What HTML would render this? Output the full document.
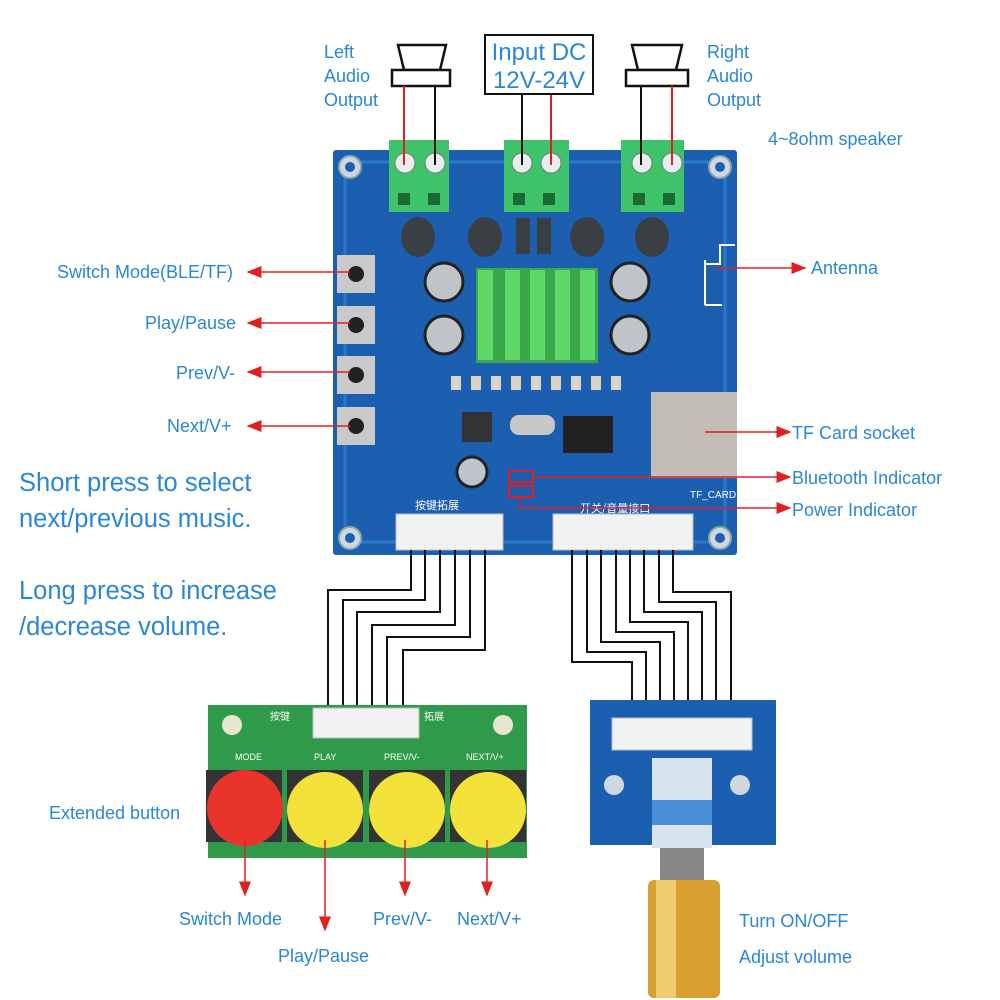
<!DOCTYPE html>
<html><head><meta charset="utf-8"><style>
html,body{margin:0;padding:0;background:#fff}
svg{display:block}
.t{font-family:"Liberation Sans","Noto Sans CJK SC",sans-serif;fill:#2a86d8}
</style></head><body>
<svg width="1000" height="1000" viewBox="0 0 1000 1000" xmlns="http://www.w3.org/2000/svg">
<defs>
<marker id="a" markerWidth="10" markerHeight="8" refX="9" refY="4" orient="auto"><path d="M0,0 L10,4 L0,8 z" fill="#e02020"/></marker>
</defs>
<rect x="333" y="150" width="404" height="405" fill="#1c5fb0" rx="3"/>
<rect x="345" y="162" width="380" height="380" fill="none" stroke="#2a78cc" stroke-width="3"/>
<g fill="#cfd8e0" stroke="#8aa" stroke-width="2">
<circle cx="350" cy="167" r="11"/><circle cx="720" cy="167" r="11"/><circle cx="350" cy="538" r="11"/><circle cx="720" cy="538" r="11"/></g>
<g fill="#1c5fb0"><circle cx="350" cy="167" r="5"/><circle cx="720" cy="167" r="5"/><circle cx="350" cy="538" r="5"/><circle cx="720" cy="538" r="5"/></g>
<g fill="#3ec36a"><rect x="389" y="140" width="60" height="72"/><rect x="504" y="140" width="65" height="72"/><rect x="621" y="140" width="63" height="72"/></g>
<g fill="#1b6a35"><rect x="398" y="193" width="12" height="12"/><rect x="428" y="193" width="12" height="12"/><rect x="513" y="193" width="12" height="12"/><rect x="543" y="193" width="12" height="12"/><rect x="633" y="193" width="12" height="12"/><rect x="663" y="193" width="12" height="12"/></g>
<g fill="#e8eeee" stroke="#777"><circle cx="405" cy="163" r="10"/><circle cx="435" cy="163" r="10"/><circle cx="522" cy="163" r="10"/><circle cx="551" cy="163" r="10"/><circle cx="642" cy="163" r="10"/><circle cx="672" cy="163" r="10"/></g>
<g fill="#3a3f44"><ellipse cx="418" cy="237" rx="17" ry="20"/><ellipse cx="485" cy="237" rx="17" ry="20"/><ellipse cx="587" cy="237" rx="17" ry="20"/><ellipse cx="652" cy="237" rx="17" ry="20"/>
<rect x="516" y="218" width="14" height="36"/><rect x="537" y="218" width="14" height="36"/></g>
<g fill="#bfc4c8" stroke="#222" stroke-width="3"><circle cx="444" cy="282" r="19"/><circle cx="444" cy="335" r="19"/><circle cx="630" cy="282" r="19"/><circle cx="630" cy="335" r="19"/><circle cx="472" cy="472" r="15"/></g>
<rect x="476" y="268" width="122" height="95" fill="#3aa84a"/>
<g fill="#5ed868"><rect x="478" y="270" width="15" height="90"/><rect x="505" y="270" width="15" height="90"/><rect x="530" y="270" width="15" height="90"/><rect x="555" y="270" width="15" height="90"/><rect x="580" y="270" width="15" height="90"/></g>
<rect x="563" y="416" width="50" height="37" fill="#222"/>
<rect x="510" y="415" width="45" height="20" rx="9" fill="#c8c8c8"/>
<rect x="462" y="412" width="30" height="30" fill="#333"/>
<g fill="#d9d2c8"><rect x="451" y="376" width="10" height="14"/><rect x="471" y="376" width="10" height="14"/><rect x="491" y="376" width="10" height="14"/><rect x="511" y="376" width="10" height="14"/><rect x="531" y="376" width="10" height="14"/><rect x="551" y="376" width="10" height="14"/><rect x="571" y="376" width="10" height="14"/><rect x="591" y="376" width="10" height="14"/><rect x="611" y="376" width="10" height="14"/></g>
<rect x="651" y="392" width="86" height="86" fill="#c2bdb6"/>
<path d="M705 264 H720 V245 H735 M705 305 V260 M705 305 H722" stroke="#fff" stroke-width="2" fill="none"/>
<g fill="#c9c9c9"><rect x="337" y="255" width="38" height="38"/><rect x="337" y="306" width="38" height="38"/><rect x="337" y="356" width="38" height="38"/><rect x="337" y="407" width="38" height="38"/></g>
<g fill="#222"><circle cx="356" cy="274" r="8"/><circle cx="356" cy="325" r="8"/><circle cx="356" cy="375" r="8"/><circle cx="356" cy="426" r="8"/></g>
<rect x="396" y="514" width="107" height="36" fill="#f2f2f2" stroke="#bbb"/>
<rect x="553" y="514" width="140" height="36" fill="#f2f2f2" stroke="#bbb"/>
<text x="415" y="509" font-size="11" fill="#fff" font-family="Noto Sans CJK SC,sans-serif">按键拓展</text>
<text x="580" y="512" font-size="11" fill="#fff" font-family="Noto Sans CJK SC,sans-serif">开关/音量接口</text>
<text x="690" y="498" font-size="10" fill="#fff" font-family="Liberation Sans,sans-serif">TF_CARD</text>
<rect x="509" y="471" width="24" height="11" fill="none" stroke="#e02020" stroke-width="2"/>
<rect x="509" y="486" width="24" height="11" fill="none" stroke="#e02020" stroke-width="2"/>
<g stroke="#111" stroke-width="2" fill="none">
<path d="M411 550 V590 H328 V730"/><path d="M425 550 V600 H343 V730"/><path d="M440 550 V612 H357 V730"/><path d="M455 550 V625 H372 V730"/><path d="M470 550 V637 H387 V730"/><path d="M485 550 V650 H403 V730"/>
<path d="M572 550 V662 H632 V730"/><path d="M587 550 V652 H646 V730"/><path d="M601 550 V642 H660 V730"/><path d="M616 550 V632 H674 V730"/><path d="M630 550 V622 H688 V730"/><path d="M644 550 V612 H702 V730"/><path d="M659 550 V602 H716 V730"/><path d="M673 550 V592 H731 V730"/>
</g>
<rect x="208" y="705" width="319" height="153" fill="#2f9b4a"/>
<circle cx="232" cy="725" r="10" fill="#e7e7d0"/><circle cx="503" cy="725" r="10" fill="#e7e7d0"/>
<rect x="313" y="708" width="106" height="30" fill="#f2f2f2" stroke="#bbb"/>
<text x="270" y="720" font-size="10" fill="#fff" font-family="Noto Sans CJK SC,sans-serif">按键</text>
<text x="424" y="720" font-size="10" fill="#fff" font-family="Noto Sans CJK SC,sans-serif">拓展</text>
<g font-size="9" fill="#fff" font-family="Liberation Sans,sans-serif"><text x="235" y="760">MODE</text><text x="314" y="760">PLAY</text><text x="384" y="760">PREV/V-</text><text x="466" y="760">NEXT/V+</text></g>
<g fill="#333"><rect x="206" y="770" width="76" height="72"/><rect x="287" y="770" width="76" height="72"/><rect x="369" y="770" width="76" height="72"/><rect x="450" y="770" width="76" height="72"/></g>
<circle cx="245" cy="808" r="38" fill="#e8342a"/>
<g fill="#f3e23a"><circle cx="325" cy="810" r="38"/><circle cx="407" cy="810" r="38"/><circle cx="488" cy="810" r="38"/></g>
<rect x="590" y="700" width="186" height="145" fill="#1c5fb0"/>
<rect x="612" y="718" width="140" height="32" fill="#f2f2f2" stroke="#bbb"/>
<circle cx="614" cy="785" r="10" fill="#cfd8e0"/><circle cx="740" cy="785" r="10" fill="#cfd8e0"/>
<rect x="652" y="758" width="60" height="90" fill="#d8e4f0"/>
<rect x="652" y="800" width="60" height="25" fill="#4a90d8"/>
<rect x="660" y="848" width="44" height="35" fill="#888"/>
<rect x="648" y="880" width="72" height="118" rx="6" fill="#d8a030"/>
<rect x="656" y="880" width="20" height="118" fill="#f0cc70"/>
<g fill="#fff" stroke="#111" stroke-width="2.5"><path d="M398 45 H446 L440 70 H404 Z"/><rect x="392" y="70" width="58" height="16"/><path d="M632 45 H682 L676 70 H638 Z"/><rect x="626" y="70" width="62" height="16"/></g>
<g stroke-width="2" fill="none"><path d="M404 86 V165" stroke="#e02020"/><path d="M435 86 V165" stroke="#111"/><path d="M641 86 V165" stroke="#111"/><path d="M672 86 V165" stroke="#e02020"/><path d="M522 95 V165" stroke="#111"/><path d="M551 95 V165" stroke="#e02020"/></g>
<rect x="485" y="35" width="108" height="59" fill="#fff" stroke="#111" stroke-width="2"/>
<text class="t" x="539" y="60" font-size="24" text-anchor="middle">Input DC</text>
<text class="t" x="539" y="88" font-size="24" text-anchor="middle">12V-24V</text>
<g stroke="#e02020" stroke-width="1.5" fill="none" marker-end="url(#a)">
<path d="M350 272 H248"/><path d="M350 323 H248"/><path d="M350 372 H248"/><path d="M350 426 H248"/>
<path d="M715 268 H805"/><path d="M705 432 H790"/><path d="M533 477 H790"/><path d="M520 497 V508 H790"/>
<path d="M245 840 V895"/><path d="M325 840 V930"/><path d="M405 840 V895"/><path d="M487 840 V895"/>
</g>
<g class="t" font-size="18">
<text x="324" y="58">Left</text><text x="324" y="82">Audio</text><text x="324" y="106">Output</text>
<text x="707" y="58">Right</text><text x="707" y="82">Audio</text><text x="707" y="106">Output</text>
<text x="768" y="145">4~8ohm speaker</text>
<text x="57" y="278">Switch Mode(BLE/TF)</text>
<text x="145" y="329">Play/Pause</text>
<text x="176" y="379">Prev/V-</text>
<text x="167" y="432">Next/V+</text>
<text x="811" y="274">Antenna</text>
<text x="792" y="439">TF Card socket</text>
<text x="792" y="484">Bluetooth Indicator</text>
<text x="792" y="516">Power Indicator</text>
<text x="49" y="819">Extended button</text>
<text x="179" y="925">Switch Mode</text>
<text x="278" y="962">Play/Pause</text>
<text x="373" y="925">Prev/V-</text>
<text x="457" y="925">Next/V+</text>
<text x="739" y="927">Turn ON/OFF</text>
<text x="739" y="963">Adjust volume</text>
</g>
<g class="t" font-size="25.5">
<text x="19" y="491">Short press to select</text>
<text x="19" y="527">next/previous music.</text>
<text x="19" y="599">Long press to increase</text>
<text x="19" y="635">/decrease volume.</text>
</g>
</svg>
</body></html>
